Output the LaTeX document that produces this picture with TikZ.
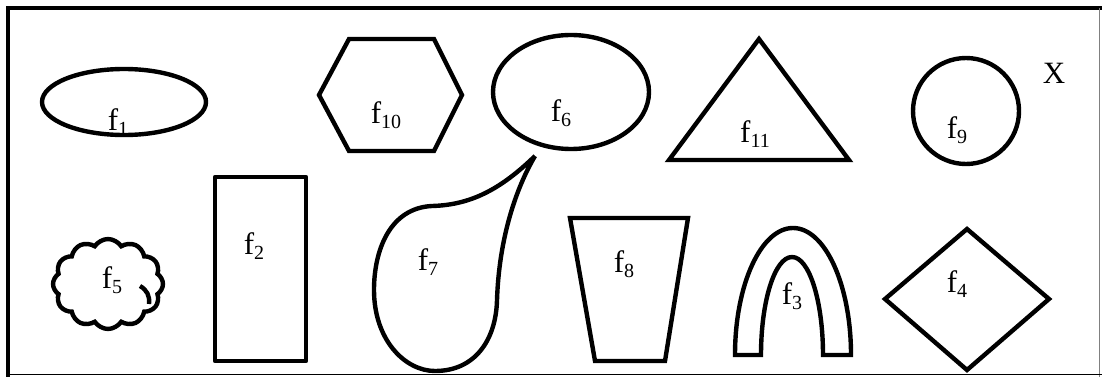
\documentclass[tikz,border=0pt]{standalone}
\usepackage{fontspec}
\setmainfont{Liberation Serif}
\usetikzlibrary{shapes.symbols}
\newcommand{\fsub}[1]{f\raisebox{-5pt}{\fontsize{20}{20}\selectfont #1}}

\begin{document}
\begin{tikzpicture}[x=1pt, y=-1pt,
  outline/.style={line width=4.4pt, line join=miter},
  frameline/.style={line width=4pt, line join=miter},
  lbl/.style={font=\fontsize{31}{31}\selectfont, inner sep=0pt}]

  \useasboundingbox (0,0) rectangle (1102,377);

  % frame
  \draw[frameline] (8,377) -- (8,8) -- (1102,8);
  \draw[line width=1pt, gray] (1099.5,8) -- (1099.5,377);
  \draw[line width=1.2pt] (8,374.5) -- (1102,374.5);

  % top row
  \draw[outline] (124,102) ellipse [x radius=82, y radius=33];
  \draw[outline] (349,39) -- (434,39) -- (462,95) -- (434,151) -- (349,151) -- (319,95) -- cycle;
  \draw[outline] (571,92) ellipse [x radius=78, y radius=57];
  \draw[outline] (759,39) -- (849,160) -- (669,160) -- cycle;
  \draw[outline] (966,111) circle [radius=53];

  % bottom row
  \node[cloud, draw, outline, cloud puffs=12, cloud puff arc=115, aspect=1.25,
    minimum width=110pt, minimum height=90pt, inner sep=0pt] (cloud) at (108,284) {};
  \draw[line width=4.4pt] (140,286) .. controls (147,290) and (150,296) .. (149,304);
  \draw[outline, line join=round] (215,177) rectangle (306,361);
  \draw[outline] (535,156) .. controls (500,190) and (470,205) .. (432,206)
    .. controls (390,208) and (374,250) .. (374,290)
    .. controls (374,340) and (405,371) .. (435,371)
    .. controls (475,371) and (496,340) .. (497,300)
    .. controls (499,240) and (515,190) .. (535,156);
  \draw[outline] (570,218) -- (688,218) -- (665,361) -- (595,361) -- cycle;
  \draw[outline] (735,355) arc [start angle=180, end angle=360, x radius=58, y radius=127]
    -- (823,355) arc [start angle=0, end angle=-180, x radius=31, y radius=98] -- cycle;
  \draw[outline] (967,229) -- (1049,299) -- (967,370) -- (885,299) -- cycle;

  % labels
  \node[lbl] (f1) at (118,122) {\fsub{1}};
  \node[lbl] (f10) at (386,115) {\fsub{10}};
  \node[lbl] (f6) at (561,113) {\fsub{6}};
  \node[lbl] (f11) at (755,134) {\fsub{11}};
  \node[lbl] (f9) at (957,130) {\fsub{9}};
  \node[lbl] (x) at (1054,73) {X};
  \node[lbl] (f5) at (112,280) {\fsub{5}};
  \node[lbl] (f2) at (254,246) {\fsub{2}};
  \node[lbl] (f7) at (428,262) {\fsub{7}};
  \node[lbl] (f8) at (624,264) {\fsub{8}};
  \node[lbl] (f3) at (792,296) {\fsub{3}};
  \node[lbl] (f4) at (957,284) {\fsub{4}};
\end{tikzpicture}
\end{document}
